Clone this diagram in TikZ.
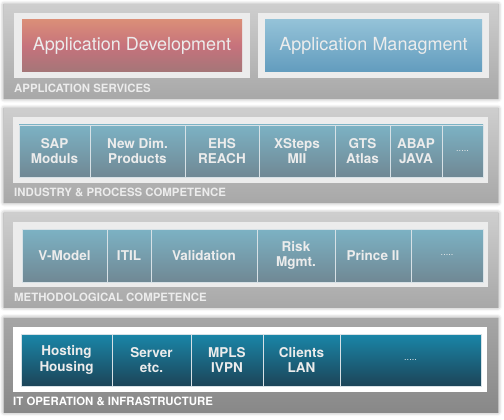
\documentclass[tikz,border=0pt]{standalone}
\usepackage{fontspec}
\newfontfamily\heros{TeX Gyre Heros}
\usetikzlibrary{positioning,shadows.blur}

\definecolor{bandtop}{RGB}{206,206,206}
\definecolor{bandbot}{RGB}{168,168,168}
\definecolor{darkbandtop}{RGB}{166,166,166}
\definecolor{darkbandbot}{RGB}{136,136,136}
\definecolor{framegray}{RGB}{236,236,236}
\definecolor{celltop}{RGB}{124,178,196}
\definecolor{cellbot}{RGB}{112,136,148}
\definecolor{darktop}{RGB}{26,134,168}
\definecolor{darkbot}{RGB}{28,68,88}
\definecolor{celledge}{RGB}{215,225,230}
\definecolor{celltext}{RGB}{236,236,236}
\definecolor{redtop}{RGB}{218,142,120}
\definecolor{redmid}{RGB}{198,114,124}
\definecolor{redbot}{RGB}{164,118,120}
\definecolor{bluetop}{RGB}{148,194,216}
\definecolor{bluebot}{RGB}{98,156,190}

\begin{document}
\begin{tikzpicture}[x=1pt, y=-1pt,
  band/.style={minimum width=494pt, minimum height=94pt, inner sep=0pt, outer sep=0pt,
    top color=bandtop, bottom color=bandbot,
    blur shadow={shadow xshift=0pt, shadow yshift=0pt, shadow blur radius=4pt, shadow opacity=45}},
  darkband/.style={band, top color=darkbandtop, bottom color=darkbandbot},
  frame/.style={fill=framegray, minimum height=65pt, inner sep=0pt, outer sep=0pt},
  whiteframe/.style={frame, fill=white},
  service/.style={minimum height=52pt, inner sep=0pt, outer sep=0pt, text=celltext,
    font=\heros\fontsize{18}{20}\selectfont},
  cell/.style={draw=celledge, line width=0.8pt, minimum height=52pt, inner sep=0pt, outer sep=0pt,
    top color=celltop, bottom color=cellbot, text=celltext, align=center,
    font=\heros\bfseries\fontsize{13.5}{15.5}\selectfont},
  darkcell/.style={cell, top color=darktop, bottom color=darkbot},
  grouplabel/.style={anchor=west, inner sep=0pt, text=celltext,
    font=\heros\bfseries\fontsize{11.4}{12}\selectfont},
]
\useasboundingbox (0,0) rectangle (504,420);

% Application services
\node[band] (b1) at (251,51.5) {};
\node[frame, minimum width=236pt] (f1a) at (132,46) {};
\node[frame, minimum width=231pt] (f1b) at (373.5,46) {};
\node[service, minimum width=220pt, top color=redtop, bottom color=redbot, middle color=redmid] (dev) at (f1a) {Application Development};
\node[service, minimum width=217pt, top color=bluetop, bottom color=bluebot] (mgmt) at (f1b) {Application Managment};
\node[grouplabel] (l1) at (14,88) {APPLICATION SERVICES};

% Industry & process competence
\node[band] (b2) at (251,155.5) {};
\node[frame, minimum width=475pt] (f2) at (250.5,150) {};
\node[cell, minimum width=71pt, anchor=west] (sap) at (19,151) {SAP\\Moduls};
\node[cell, minimum width=95pt, right=0pt of sap] (ndp) {New Dim.\\Products};
\node[cell, minimum width=74pt, right=0pt of ndp] (ehs) {EHS\\REACH};
\node[cell, minimum width=76pt, right=0pt of ehs] (xsteps) {XSteps\\MII};
\node[cell, minimum width=55pt, right=0pt of xsteps] (gts) {GTS\\Atlas};
\node[cell, minimum width=52pt, right=0pt of gts] (abap) {ABAP\\JAVA};
\node[cell, minimum width=41pt, right=0pt of abap, font=\heros\fontsize{9}{10}\selectfont] (more2) {.....};
\node[grouplabel] (l2) at (14,192) {INDUSTRY \& PROCESS COMPETENCE};

% Methodological competence
\node[band] (b3) at (251,260) {};
\node[frame, minimum width=475pt] (f3) at (250.5,254.5) {};
\node[cell, minimum width=85pt, minimum height=53pt, anchor=west] (vmodel) at (22,255.5) {V-Model};
\node[cell, minimum width=44pt, minimum height=53pt, right=0pt of vmodel] (itil) {ITIL};
\node[cell, minimum width=106pt, minimum height=53pt, right=0pt of itil] (valid) {Validation};
\node[cell, minimum width=78pt, minimum height=53pt, right=0pt of valid] (risk) {Risk\\Mgmt.};
\node[cell, minimum width=76pt, minimum height=53pt, right=0pt of risk] (prince) {Prince II};
\node[cell, minimum width=72pt, minimum height=53pt, right=0pt of prince, font=\heros\fontsize{9}{10}\selectfont] (more3) {.....};
\node[grouplabel] (l3) at (14,297) {METHODOLOGICAL COMPETENCE};

% IT operation & infrastructure
\node[darkband] (b4) at (251,365) {};
\node[whiteframe, minimum width=474pt] (f4) at (250,359.5) {};
\node[darkcell, minimum width=91pt, anchor=west] (host) at (21,360) {Hosting\\Housing};
\node[darkcell, minimum width=79pt, right=0pt of host] (server) {Server\\etc.};
\node[darkcell, minimum width=72pt, right=0pt of server] (mpls) {MPLS\\IVPN};
\node[darkcell, minimum width=77pt, right=0pt of mpls] (clients) {Clients\\LAN};
\node[darkcell, minimum width=141pt, right=0pt of clients, font=\heros\fontsize{9}{10}\selectfont] (more4) {.....};
\node[grouplabel, text=white] (l4) at (13,401) {IT OPERATION \& INFRASTRUCTURE};

\end{tikzpicture}
\end{document}
